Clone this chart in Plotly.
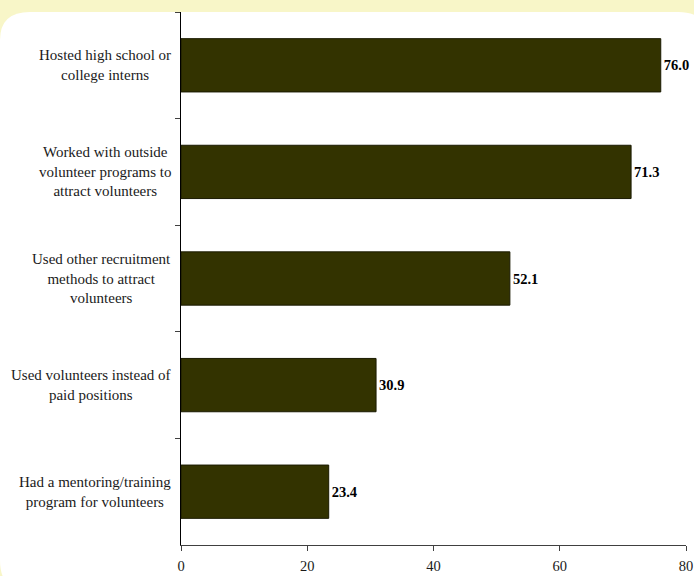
import plotly.graph_objects as go

categories = [
    "Hosted high school or<br>college interns",
    "Worked with outside<br>volunteer programs to<br>attract volunteers",
    "Used other recruitment<br>methods to attract<br>volunteers",
    "Used volunteers instead of<br>paid positions",
    "Had a mentoring/training<br>program for volunteers",
]
values = [76.0, 71.3, 52.1, 30.9, 23.4]
x_ticks = [0, 20, 40, 60, 80]

W, H = 694, 576
L, R, T, B = 181, 8, 12, 31
PW, PH = W - L - R, H - T - B

def px(x):
    return (x - L) / PW

def py(y):
    return (H - B - y) / PH

SERIF = "Liberation Serif"

fig = go.Figure()
fig.add_trace(go.Bar(
    y=categories,
    x=values,
    orientation="h",
    marker=dict(color="#333300", line=dict(color="#1a1a00", width=1)),
    width=0.5,
    text=[f"{v:.1f}" for v in values],
    textposition="outside",
    textfont=dict(family=SERIF, size=14.5, color="black", weight="bold"),
    constraintext="none",
    cliponaxis=False,
    hoverinfo="skip",
))

# white rounded panel
path = (
    f"M {px(0)},{py(40)} Q {px(0)},{py(12)} {px(30)},{py(12)} "
    f"L {px(678)},{py(12)} Q {px(710)},{py(12)} {px(710)},{py(44)} "
    f"L {px(710)},{py(560)} Q {px(710)},{py(592)} {px(678)},{py(592)} "
    f"L {px(30)},{py(592)} Q {px(0)},{py(592)} {px(0)},{py(560)} Z"
)
fig.add_shape(type="path", path=path, xref="paper", yref="paper",
              fillcolor="white", line=dict(width=0), layer="below")

# category labels (centered lines, right aligned block)
for c in categories:
    fig.add_annotation(
        x=px(173), xref="paper", y=c, yref="y",
        text=c, showarrow=False, xanchor="right", align="center",
        font=dict(family=SERIF, size=15, color="#1a1a1a"),
    )

fig.update_layout(
    width=W, height=H,
    margin=dict(l=L, r=R, t=T, b=B, pad=0, autoexpand=False),
    paper_bgcolor="#f8f6c8",
    plot_bgcolor="rgba(0,0,0,0)",
    showlegend=False,
    bargap=0.5,
    xaxis=dict(
        range=[0, 80], tickvals=x_ticks, ticktext=[str(t) for t in x_ticks],
        showgrid=False, zeroline=False, showline=True, linecolor="#404040", linewidth=1,
        ticks="outside", ticklen=5, tickcolor="#404040", automargin=False,
        ticklabelstandoff=3,
        tickfont=dict(family=SERIF, size=14.5, color="#1a1a1a"),
        fixedrange=True,
    ),
    yaxis=dict(
        categoryorder="array", categoryarray=categories, autorange="reversed",
        showticklabels=False, showgrid=False, zeroline=False, automargin=False,
        showline=True, linecolor="black", linewidth=1,
        ticks="outside", ticklen=5, tickcolor="#404040", tickson="boundaries",
        fixedrange=True,
    ),
)

fig.write_html("out.html")
